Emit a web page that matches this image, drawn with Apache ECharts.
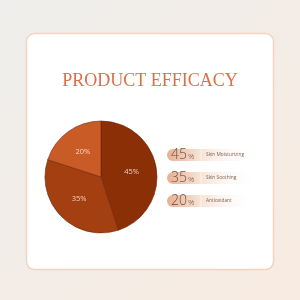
<!DOCTYPE html>
<html><head><meta charset="utf-8">
<script src="https://cdn.jsdelivr.net/npm/echarts@6/dist/echarts.min.js"></script>
<style>html,body{margin:0;padding:0;}#c{width:300px;height:300px;}</style>
</head><body><div id="c"></div>
<script>
const categories = ['Skin Moisturizing', 'Skin Soothing', 'Antioxidant'];
const values = [45, 35, 20];
const sliceColors = ['#8b2f07', '#a33f10', '#c95b27'];
const title = 'PRODUCT EFFICACY';

const chart = echarts.init(document.getElementById('c'), null, {renderer: 'canvas'});
const pillY = [155, 178, 201];
const graphics = [
  {type:'rect', z:-10, shape:{x:0,y:0,width:300,height:300},
   style:{fill:new echarts.graphic.LinearGradient(0,0,1,1,[{offset:0,color:'#eeeeec'},{offset:1,color:'#f8ebe1'}])}},
  {type:'rect', z:-9, shape:{x:26.5,y:33.5,width:247,height:236,r:8},
   style:{fill:'#ffffff', stroke:'#f1d3c0', lineWidth:1.5}}
];
categories.forEach((name,i)=>{
  const y = pillY[i];
  graphics.push({type:'rect', z:1, shape:{x:167,y:y-6,width:90,height:12,r:[6,0,0,6]},
    style:{fill:new echarts.graphic.LinearGradient(0,0,1,0,[{offset:0,color:'#e8b193'},{offset:0.35,color:'#f6e0d2'},{offset:1,color:'rgba(255,255,255,0)'}])}});
  graphics.push({type:'line', z:2, shape:{x1:201,y1:y-6,x2:201,y2:y+6}, style:{stroke:'rgba(255,255,255,0.8)',lineWidth:0.8}});
  graphics.push({type:'text', z:3, x:171, y:y, style:{text:String(values[i]), font:'300 14px "Open Sans"', fill:'#6e4a3e', verticalAlign:'middle'}});
  graphics.push({type:'text', z:3, x:188, y:y+1.5, style:{text:'%', font:'300 8px "Open Sans"', fill:'#6e4a3e', verticalAlign:'middle'}});
  graphics.push({type:'text', z:3, x:206, y:y, style:{text:name, font:'4.8px "Open Sans"', fill:'#7d5f55', verticalAlign:'middle'}});
});

chart.setOption({
  title:{text:title, left:'center', top:67,
    textStyle:{fontFamily:'Liberation Serif', fontWeight:'normal', fontSize:18, color:'#d8714b'}},
  graphic:graphics,
  series:[{
    type:'pie', center:[101,177], radius:[0,56], startAngle:90, clockwise:true,
    label:{show:true, position:'inside', formatter:'{c}%', color:'rgba(255,230,220,0.85)', fontSize:7.5, fontFamily:'Open Sans'},
    labelLine:{show:false},
    itemStyle:{borderColor:'#6e2406', borderWidth:0.6},
    emphasis:{disabled:true},
    data: categories.map((n,i)=>({name:n, value:values[i], itemStyle:{color:sliceColors[i]}}))
  }]
});
</script></body></html>
